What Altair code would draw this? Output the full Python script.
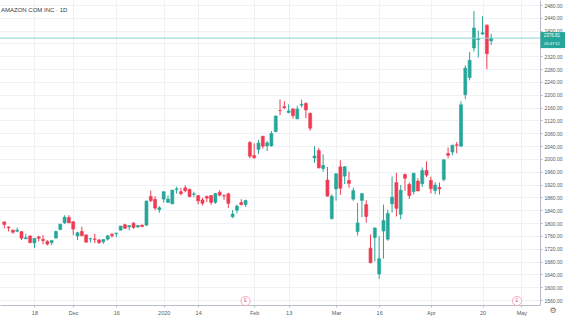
import altair as alt
import pandas as pd

dates = [
    "2019-11-07", "2019-11-08", "2019-11-11", "2019-11-12", "2019-11-13", "2019-11-14", "2019-11-15",
    "2019-11-18", "2019-11-19", "2019-11-20", "2019-11-21", "2019-11-22", "2019-11-25", "2019-11-26",
    "2019-11-27", "2019-11-29", "2019-12-02", "2019-12-03", "2019-12-04", "2019-12-05", "2019-12-06",
    "2019-12-09", "2019-12-10", "2019-12-11", "2019-12-12", "2019-12-13", "2019-12-16", "2019-12-17",
    "2019-12-18", "2019-12-19", "2019-12-20", "2019-12-23", "2019-12-24", "2019-12-26", "2019-12-27",
    "2019-12-30", "2019-12-31", "2020-01-02", "2020-01-03", "2020-01-06", "2020-01-07", "2020-01-08",
    "2020-01-09", "2020-01-10", "2020-01-13", "2020-01-14", "2020-01-15", "2020-01-16", "2020-01-17",
    "2020-01-21", "2020-01-22", "2020-01-23", "2020-01-24", "2020-01-27", "2020-01-28", "2020-01-29",
    "2020-01-30", "2020-01-31", "2020-02-03", "2020-02-04", "2020-02-05", "2020-02-06", "2020-02-07",
    "2020-02-10", "2020-02-11", "2020-02-12", "2020-02-13", "2020-02-14", "2020-02-18", "2020-02-19",
    "2020-02-20", "2020-02-21", "2020-02-24", "2020-02-25", "2020-02-26", "2020-02-27", "2020-02-28",
    "2020-03-02", "2020-03-03", "2020-03-04", "2020-03-05", "2020-03-06", "2020-03-09", "2020-03-10",
    "2020-03-11", "2020-03-12", "2020-03-13", "2020-03-16", "2020-03-17", "2020-03-18", "2020-03-19",
    "2020-03-20", "2020-03-23", "2020-03-24", "2020-03-25", "2020-03-26", "2020-03-27", "2020-03-30",
    "2020-03-31", "2020-04-01", "2020-04-02", "2020-04-03", "2020-04-06", "2020-04-07", "2020-04-08",
    "2020-04-09", "2020-04-13", "2020-04-14", "2020-04-15", "2020-04-16", "2020-04-17", "2020-04-20",
    "2020-04-21", "2020-04-22",
]

opens = [
    1803.76, 1787.89, 1778.00, 1774.66, 1773.39, 1751.43, 1760.05,
    1738.30, 1756.99, 1749.14, 1743.00, 1739.02, 1753.25, 1779.92,
    1801.00, 1817.78, 1804.40, 1760.00, 1774.01, 1763.50, 1751.20,
    1750.66, 1747.40, 1741.67, 1750.00, 1765.00, 1767.00, 1778.01,
    1795.02, 1788.26, 1799.62, 1788.26, 1793.81, 1793.81, 1882.92,
    1874.00, 1842.00, 1875.00, 1864.50, 1860.00, 1904.50, 1898.04,
    1909.89, 1905.37, 1890.00, 1885.88, 1872.25, 1882.99, 1885.89,
    1865.00, 1896.09, 1885.11, 1891.37, 1820.00, 1840.50, 1864.00,
    1858.00, 2051.47, 2010.60, 2029.88, 2071.02, 2041.02, 2041.02,
    2085.01, 2150.90, 2163.20, 2144.99, 2155.68, 2125.02, 2167.80,
    2173.07, 2142.15, 2003.18, 2026.42, 1970.28, 1934.38, 1814.63,
    1906.49, 1975.37, 1946.57, 1933.00, 1875.00, 1773.86, 1870.88,
    1857.85, 1721.98, 1755.00, 1641.51, 1775.47, 1750.00, 1860.00,
    1926.31, 1827.75, 1951.50, 1920.69, 1898.51, 1930.86, 1922.83,
    1964.35, 1932.97, 1901.64, 1911.10, 1936.00, 2017.11, 2021.64,
    2044.30, 2040.00, 2200.47, 2254.00, 2346.00, 2372.33, 2389.95,
    2416.61, 2368.00,
]

highs = [
    1805.90, 1789.88, 1780.00, 1786.22, 1775.00, 1766.59, 1761.68,
    1753.70, 1760.68, 1762.52, 1746.87, 1746.43, 1777.42, 1797.03,
    1824.50, 1824.69, 1805.55, 1772.87, 1789.09, 1763.50, 1754.40,
    1766.89, 1750.67, 1750.00, 1763.00, 1768.99, 1769.50, 1792.00,
    1798.20, 1792.00, 1802.97, 1793.00, 1795.57, 1870.46, 1901.40,
    1884.00, 1853.26, 1898.01, 1886.20, 1903.69, 1913.89, 1910.00,
    1917.82, 1906.94, 1898.00, 1887.11, 1878.86, 1885.59, 1886.64,
    1894.27, 1902.50, 1889.98, 1894.99, 1841.00, 1858.11, 1874.75,
    1872.87, 2055.72, 2048.50, 2059.80, 2071.02, 2056.30, 2087.00,
    2135.60, 2185.95, 2180.25, 2170.28, 2159.04, 2166.07, 2185.10,
    2176.79, 2144.55, 2039.30, 2034.60, 2014.67, 1975.00, 1889.76,
    1954.51, 1996.33, 1978.00, 1960.72, 1910.87, 1862.77, 1894.27,
    1871.32, 1765.00, 1786.31, 1759.45, 1857.78, 1841.66, 1945.00,
    1957.00, 1919.40, 1955.00, 1926.32, 1956.49, 1939.79, 1973.63,
    1993.02, 1944.96, 1927.53, 1926.33, 1998.52, 2035.72, 2044.00,
    2053.00, 2180.00, 2292.00, 2333.37, 2461.00, 2400.00, 2444.98,
    2420.00, 2390.00,
]

lows = [
    1783.48, 1774.04, 1767.13, 1771.91, 1747.32, 1749.56, 1736.86,
    1722.71, 1743.03, 1734.12, 1730.36, 1731.00, 1753.24, 1778.35,
    1797.31, 1800.79, 1762.68, 1747.23, 1760.22, 1740.00, 1740.13,
    1738.00, 1735.00, 1735.71, 1745.62, 1755.00, 1757.05, 1777.39,
    1782.36, 1777.63, 1782.45, 1784.51, 1787.58, 1792.00, 1866.01,
    1840.62, 1832.23, 1864.15, 1864.50, 1860.00, 1892.04, 1886.44,
    1895.80, 1880.00, 1880.80, 1858.55, 1855.09, 1866.02, 1857.25,
    1860.00, 1883.34, 1872.76, 1847.44, 1815.34, 1830.02, 1855.02,
    1850.61, 2002.27, 2000.25, 2015.37, 2032.00, 2024.80, 2038.10,
    2084.96, 2136.00, 2155.29, 2142.00, 2125.89, 2124.11, 2161.12,
    2127.45, 2088.00, 1987.70, 1970.00, 1960.45, 1882.76, 1811.13,
    1870.00, 1888.09, 1922.00, 1910.00, 1869.50, 1761.29, 1818.17,
    1801.50, 1675.00, 1680.62, 1626.03, 1689.24, 1745.00, 1832.65,
    1820.73, 1812.00, 1900.34, 1875.00, 1889.15, 1899.92, 1912.34,
    1944.01, 1893.00, 1890.00, 1889.15, 1930.02, 2002.00, 2012.00,
    2017.66, 2038.00, 2186.21, 2245.00, 2335.00, 2316.02, 2386.05,
    2280.00, 2355.00,
]

closes = [
    1795.77, 1785.88, 1771.65, 1778.00, 1753.11, 1754.60, 1739.49,
    1752.53, 1752.79, 1745.53, 1734.71, 1745.72, 1773.84, 1796.94,
    1818.51, 1800.80, 1781.60, 1769.96, 1760.69, 1740.48, 1751.60,
    1749.51, 1739.21, 1748.72, 1760.33, 1760.94, 1769.21, 1790.66,
    1784.03, 1792.28, 1786.50, 1793.00, 1789.21, 1868.77, 1869.80,
    1846.89, 1847.84, 1898.01, 1874.97, 1902.88, 1906.86, 1891.97,
    1901.05, 1883.16, 1891.30, 1869.44, 1862.02, 1877.94, 1864.72,
    1892.00, 1887.46, 1884.58, 1861.64, 1828.34, 1853.25, 1858.00,
    1870.68, 2008.72, 2004.20, 2049.67, 2039.87, 2050.23, 2079.28,
    2133.91, 2150.80, 2160.00, 2149.87, 2134.87, 2155.67, 2170.22,
    2153.10, 2095.97, 2009.29, 1972.74, 1979.59, 1884.30, 1883.75,
    1953.95, 1908.99, 1975.83, 1924.03, 1901.09, 1800.61, 1891.82,
    1820.86, 1676.61, 1785.00, 1689.15, 1807.84, 1830.00, 1880.93,
    1846.09, 1902.83, 1940.10, 1885.84, 1955.49, 1900.10, 1963.95,
    1949.72, 1907.70, 1918.83, 1906.59, 1997.59, 2011.60, 2043.00,
    2042.76, 2168.87, 2283.32, 2307.68, 2408.19, 2375.00, 2393.61,
    2328.12, 2376.81,
]

future_dates = ["2020-04-23", "2020-04-24", "2020-04-27", "2020-04-28",
                "2020-04-29", "2020-04-30", "2020-05-01"]

tick_dates = ["2019-11-18", "2019-12-02", "2019-12-16", "2020-01-02", "2020-01-14", "2020-02-03",
              "2020-02-13", "2020-03-02", "2020-03-16", "2020-04-01", "2020-04-20", "2020-05-01"]
tick_labels = ["18", "Dec", "16", "2020", "14", "Feb", "13", "Mar", "16", "Apr", "20", "May"]
y_ticks = list(range(1560, 2481, 40))
hidden_y_label = 2360  # covered by the last-price badge in the reference
earnings_dates = ["2020-01-30", "2020-04-30"]
last_price = 2376.81
countdown = "05:47:12"
symbol_title = "AMAZON COM INC · 1D"

UP = "#26a69a"
DOWN = "#ef3b52"
FONT = "Liberation Sans"
GRID = "#eef1f6"

calendar = dates + future_dates
pos = {d: i for i, d in enumerate(calendar)}

df = pd.DataFrame({"date": dates, "open": opens, "high": highs, "low": lows, "close": closes})
df["idx"] = [pos[d] for d in dates]
df["dir"] = ["up" if c >= o else "down" for o, c in zip(opens, closes)]

tick_pos = [pos[d] for d in tick_dates]
label_expr = "''"
for p, lab in reversed(list(zip(tick_pos, tick_labels))):
    label_expr = f"datum.value == {p} ? '{lab}' : ({label_expr})"

y_label_expr = f"datum.value == {hidden_y_label} ? '' : format(datum.value, '.2f')"

earn_df = pd.DataFrame({"idx": [pos[d] for d in earnings_dates], "t": ["E"] * len(earnings_dates)})

x_scale = alt.Scale(domain=[0.17, 123.17], nice=False, zero=False)
y_scale = alt.Scale(domain=[1544.8, 2495.6], nice=False, zero=False)
color_scale = alt.Scale(domain=["up", "down"], range=[UP, DOWN])

x_axis = alt.Axis(values=tick_pos, tickCount=len(tick_pos) + 5, labelExpr=label_expr, title=None,
                  grid=True, gridColor=GRID,
                  labelFontSize=5.5, labelColor="#555a66", labelFont=FONT, tickSize=2,
                  tickColor="#b8bcc6", domainColor="#b8bcc6", labelPadding=3, labelOverlap=False)
y_axis = alt.Axis(orient="right", values=y_ticks, tickCount=len(y_ticks) + 5, labelExpr=y_label_expr,
                  title=None, grid=True, gridColor=GRID,
                  labelFontSize=5, labelColor="#555a66", labelFont=FONT, tickSize=2,
                  tickColor="#b8bcc6", domainColor="#b8bcc6", labelPadding=2, labelOverlap=False)

base = alt.Chart(df)

wicks = base.mark_rule(strokeWidth=1).encode(
    x=alt.X("idx:Q", scale=x_scale, axis=x_axis),
    y=alt.Y("low:Q", scale=y_scale, axis=y_axis),
    y2="high:Q",
    color=alt.Color("dir:N", scale=color_scale, legend=None),
)

bodies = base.mark_bar(width=3, strokeWidth=0.6).encode(
    x="idx:Q",
    y="open:Q",
    y2="close:Q",
    color=alt.Color("dir:N", scale=color_scale, legend=None),
    stroke=alt.Stroke("dir:N", scale=color_scale, legend=None),
)

price_line = alt.Chart(pd.DataFrame({"p": [last_price]})).mark_rule(
    color="#8ad6ce", strokeWidth=1
).encode(y="p:Q")

price_box = alt.Chart(pd.DataFrame({"p": [last_price]})).mark_rect(
    color=UP, width=25, height=16, yOffset=2
).encode(x=alt.value(553), y="p:Q")

price_txt = alt.Chart(pd.DataFrame({"p": [last_price], "t": [f"{last_price:.2f}"]})).mark_text(
    color="white", fontSize=4.5, font=FONT, yOffset=-2
).encode(x=alt.value(552), y="p:Q", text="t:N")

count_txt = alt.Chart(pd.DataFrame({"p": [last_price], "t": [countdown]})).mark_text(
    color="white", fontSize=4, font=FONT, yOffset=5.5
).encode(x=alt.value(552), y="p:Q", text="t:N")

title_txt = alt.Chart(pd.DataFrame({"t": [symbol_title]})).mark_text(
    align="left", baseline="middle", fontSize=6, font=FONT, color="#333842"
).encode(x=alt.value(1), y=alt.value(10), text="t:N")

earn_circ = alt.Chart(earn_df).mark_point(
    shape="circle", size=85, filled=True, fill="white", stroke="#f4a3b3", strokeWidth=0.9, opacity=1
).encode(x="idx:Q", y=alt.value(301))

earn_txt = alt.Chart(earn_df).mark_text(
    fontSize=4.5, font=FONT, color="#e86a82", baseline="middle"
).encode(x="idx:Q", y=alt.value(301), text="t:N")

gear = alt.Chart(pd.DataFrame({"t": ["⚙"]})).mark_text(
    fontSize=8, font="DejaVu Sans", color="#6a6f7a", baseline="middle"
).encode(x=alt.value(553), y=alt.value(311), text="t:N")

chart = alt.layer(
    wicks, bodies, price_line, price_box, price_txt, count_txt, title_txt, earn_circ, earn_txt, gear
).properties(
    width=540, height=305,
    autosize=alt.AutoSizeParams(type="none"),
    padding={"left": 0, "top": 0, "right": 25, "bottom": 14},
    background="white",
).configure_view(strokeWidth=0)

chart.save("out.html", embed_options={"renderer": "svg", "actions": False})
